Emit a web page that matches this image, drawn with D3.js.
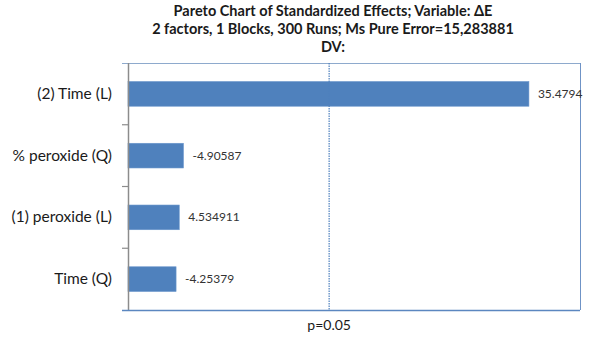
<!DOCTYPE html>
<html><head><meta charset="utf-8">
<script src="https://cdn.jsdelivr.net/npm/d3@7"></script>
<style>body{margin:0;background:#fff}svg{display:block}</style>
</head><body>
<svg id="c" width="600" height="338"></svg>
<script>
const categories = ["(2) Time (L)", "% peroxide (Q)", "(1) peroxide (L)", "Time (Q)"];
const effects = [35.4794, -4.90587, 4.534911, -4.25379];
const effectLabels = ["35.4794", "-4.90587", "4.534911", "-4.25379"];
const pThreshold = 17.8;
const pLabel = "p=0.05";
const titleLines = ["Pareto Chart of Standardized Effects; Variable: \u0394E",
                    "2 factors, 1 Blocks, 300 Runs; Ms Pure Error=15,283881",
                    "DV:"];

const svg = d3.select("#c");
const L = 128, R = 580, T = 63, B = 310;
const font = "Lato, 'Open Sans', sans-serif";
const x = d3.scaleLinear().domain([0, 40]).range([L, R]);
const y = d3.scaleBand().domain(categories).range([T, B]).paddingInner(0.6).paddingOuter(0.3);
const blue = "#4f81bd";

// title
svg.append("g").selectAll("text").data(titleLines).join("text")
  .attr("x", 333).attr("y", (d, i) => 16 + i * 18)
  .attr("text-anchor", "middle").attr("font-family", font)
  .attr("font-weight", "bold").attr("font-size", 14.5).attr("fill", "#1a1a1a")
  .text(d => d);

// frame
svg.append("line").attr("x1", L - 6).attr("x2", R).attr("y1", T + 0.5).attr("y2", T + 0.5)
  .attr("stroke", "#8eaacd").attr("stroke-width", 1);
svg.append("line").attr("x1", R + 0.5).attr("x2", R + 0.5).attr("y1", T).attr("y2", B)
  .attr("stroke", "#6f93c6").attr("stroke-width", 1);

// bars
svg.append("g").selectAll("rect").data(categories).join("rect")
  .attr("x", x(0)).attr("y", d => y(d))
  .attr("width", (d, i) => x(Math.abs(effects[i])) - x(0))
  .attr("height", y.bandwidth())
  .attr("fill", blue).attr("stroke", "#6a96cc").attr("stroke-width", 0.6);

// value labels
svg.append("g").selectAll("text").data(categories).join("text")
  .attr("x", (d, i) => x(Math.abs(effects[i])) + 9)
  .attr("y", d => y(d) + y.bandwidth() / 2 + 4)
  .attr("font-family", font).attr("font-size", 12).attr("fill", "#333")
  .text((d, i) => effectLabels[i]);

// p line
svg.append("line").attr("x1", x(pThreshold)).attr("x2", x(pThreshold))
  .attr("y1", T).attr("y2", B)
  .attr("stroke", blue).attr("stroke-width", 1.2).attr("stroke-dasharray", "1.5,1");

// left axis
const yAxis = d3.axisLeft(y).tickSize(0).tickPadding(16);
const ga = svg.append("g").attr("transform", `translate(${L},0)`).call(yAxis);
ga.select(".domain").remove();
ga.selectAll("text").attr("font-family", font).attr("font-size", 15.5).attr("fill", "#1a1a1a");
svg.append("line").attr("x1", L + 0.5).attr("x2", L + 0.5).attr("y1", T).attr("y2", B)
  .attr("stroke", "#8c8c8c").attr("stroke-width", 1.5);
const bounds = categories.slice(1).map(c => y(c) - y.step() * y.paddingInner() / 2);
svg.append("g").selectAll("line").data(bounds).join("line")
  .attr("x1", L - 6).attr("x2", L).attr("y1", d => d).attr("y2", d => d)
  .attr("stroke", "#8c8c8c").attr("stroke-width", 1.2);

// bottom axis
svg.append("line").attr("x1", L - 6).attr("x2", R).attr("y1", B + 0.5).attr("y2", B + 0.5)
  .attr("stroke", "#5b87c0").attr("stroke-width", 1.3);
svg.append("text").attr("x", x(pThreshold)).attr("y", 330)
  .attr("text-anchor", "middle").attr("font-family", font).attr("font-size", 14).attr("fill", "#1a1a1a")
  .text(pLabel);
</script>
</body></html>
